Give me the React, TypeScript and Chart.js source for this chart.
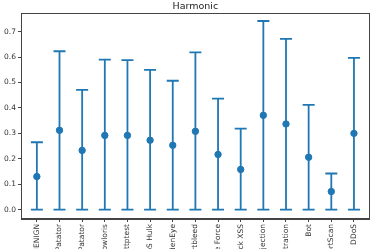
import React, { useEffect, useRef } from "react";
import { Chart, registerables } from "chart.js";

Chart.register(...registerables);

const categories = [
  "BENIGN",
  "FTP-Patator",
  "SSH-Patator",
  "DoS slowloris",
  "DoS Slowhttptest",
  "DoS Hulk",
  "DoS GoldenEye",
  "Heartbleed",
  "Web Attack Brute Force",
  "Web Attack XSS",
  "Web Attack Sql Injection",
  "Infiltration",
  "Bot",
  "PortScan",
  "DDoS",
];
const means = [0.13, 0.312, 0.233, 0.292, 0.292, 0.273, 0.253, 0.308, 0.217, 0.158, 0.371, 0.337, 0.206, 0.071, 0.3];
const upper = [0.265, 0.623, 0.471, 0.59, 0.588, 0.55, 0.507, 0.619, 0.437, 0.319, 0.742, 0.672, 0.412, 0.142, 0.597];
const lower = [0, 0, 0, 0, 0, 0, 0, 0, 0, 0, 0, 0, 0, 0, 0];
const yTicks = [0, 0.1, 0.2, 0.3, 0.4, 0.5, 0.6, 0.7];

const BLUE = "#1f77b4";

const errorBarPlugin = {
  id: "errorBars",
  beforeDatasetsDraw(chart: any) {
    const { ctx, scales } = chart;
    const xs = scales.x;
    const ys = scales.y;
    ctx.save();
    ctx.strokeStyle = BLUE;
    ctx.lineWidth = 1.8;
    for (let i = 0; i < categories.length; i++) {
      const x = xs.getPixelForValue(i);
      const yt = ys.getPixelForValue(upper[i]);
      const yb = ys.getPixelForValue(lower[i]);
      ctx.beginPath();
      ctx.moveTo(x, yt);
      ctx.lineTo(x, yb);
      ctx.moveTo(x - 6, yt);
      ctx.lineTo(x + 6, yt);
      ctx.moveTo(x - 6, yb);
      ctx.lineTo(x + 6, yb);
      ctx.stroke();
    }
    ctx.restore();
  },
  afterDraw(chart: any) {
    const { ctx, chartArea } = chart;
    ctx.save();
    ctx.strokeStyle = "#444";
    ctx.lineWidth = 1;
    ctx.strokeRect(
      Math.round(chartArea.left) + 0.5,
      Math.round(chartArea.top) + 0.5,
      Math.round(chartArea.right - chartArea.left) - 1,
      Math.round(chartArea.bottom - chartArea.top) - 1
    );
    ctx.restore();
  },
};

export default function App() {
  const ref = useRef<HTMLCanvasElement>(null);
  useEffect(() => {
    if (!ref.current) return;
    const chart = new Chart(ref.current, {
      type: "scatter",
      data: {
        datasets: [
          {
            data: means.map((m, i) => ({ x: i, y: m })),
            backgroundColor: BLUE,
            borderColor: BLUE,
            pointRadius: 3.2,
            pointHoverRadius: 3.2,
          },
        ],
      },
      options: {
        responsive: false,
        animation: false,
        layout: { padding: { left: 0, right: 3, top: 0, bottom: 0 } },
        plugins: {
          legend: { display: false },
          tooltip: { enabled: false },
          title: {
            display: true,
            text: "Harmonic",
            fullSize: false,
            color: "#222",
            font: { family: "DejaVu Sans", size: 9.5, weight: "normal" },
            padding: { top: 1, bottom: 1 },
          },
        },
        scales: {
          x: {
            type: "linear",
            min: -0.7,
            max: 14.7,
            afterBuildTicks(scale: any) {
              scale.ticks = categories.map((_, i) => ({ value: i }));
            },
            afterFit(scale: any) {
              scale.height = 30;
            },
            grid: {
              display: true,
              drawOnChartArea: false,
              drawTicks: true,
              tickLength: 3,
              color: "#444",
            },
            border: { display: true, color: "#444" },
            ticks: {
              autoSkip: false,
              maxRotation: 90,
              minRotation: 90,
              padding: 2,
              color: "#333",
              font: { family: "DejaVu Sans", size: 7.5 },
              callback: (v: any) => categories[Math.round(Number(v))] ?? "",
            },
          },
          y: {
            type: "linear",
            min: -0.037,
            max: 0.772,
            afterBuildTicks(scale: any) {
              scale.ticks = yTicks.map((v) => ({ value: v }));
            },
            afterFit(scale: any) {
              scale.width = 21;
            },
            grid: {
              display: true,
              drawOnChartArea: false,
              drawTicks: true,
              tickLength: 3,
              color: "#444",
            },
            border: { display: true, color: "#444" },
            ticks: {
              padding: 2,
              color: "#333",
              font: { family: "DejaVu Sans", size: 7.5 },
              callback: (v: any) => Number(v).toFixed(1),
            },
          },
        },
      },
      plugins: [errorBarPlugin],
    } as any);
    return () => chart.destroy();
  }, []);
  return (
    <div style={{ position: "fixed", left: 0, top: 0, width: 374, height: 249, background: "#fff" }}>
      <canvas ref={ref} width={374} height={249} style={{ display: "block", width: 374, height: 249 }} />
    </div>
  );
}
